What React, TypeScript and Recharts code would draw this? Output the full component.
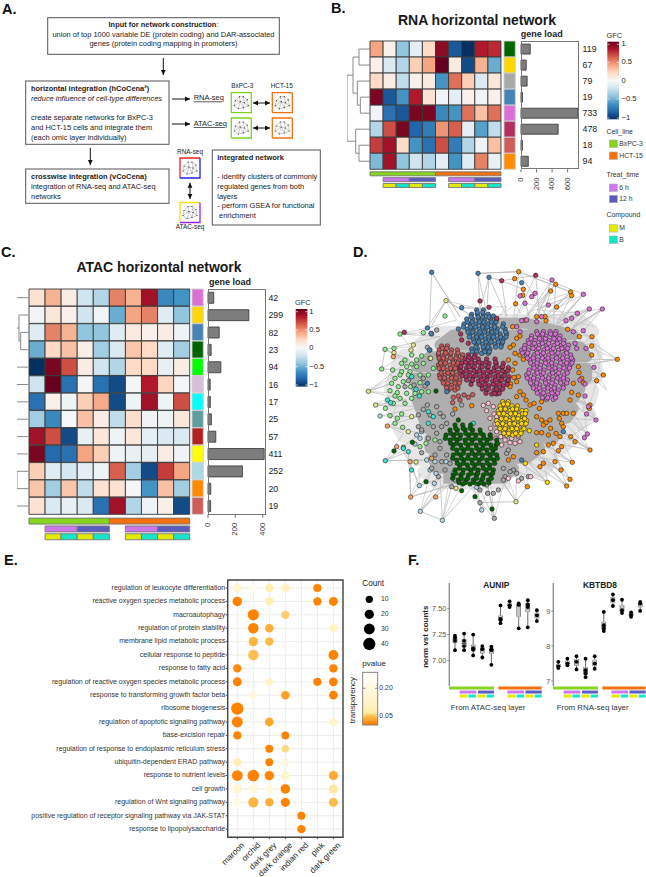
import React from "react";
import { BarChart, Bar, Cell, XAxis, YAxis, ScatterChart, Scatter, ZAxis, CartesianGrid, ReferenceArea } from "recharts";

const FONT = '"Liberation Sans", Arial, sans-serif';

// ---- heatmaps ----
const RNA_MODULES = ["darkgreen", "gold", "darkgrey", "steelblue", "orchid", "maroon", "indianred", "darkorange"];
const RNA_LOAD = [119, 67, 79, 19, 733, 478, 18, 94];
const RNA_GFC = [
  [0.4, 0.05, -0.4, -0.1, 0.2, 0.9, -0.85, -1, 0.8, 0.75],
  [0.05, -0.15, -0.3, 0.25, 0.4, 1, 0.1, -0.9, 0.35, -0.5],
  [0.2, 0.08, -0.25, 0.05, 0.1, -0.6, 0.55, 0.25, -0.15, 0.12],
  [0.95, -0.85, -0.6, 0.8, 0.15, -0.03, -0.1, 0.05, -0.03, 0.05],
  [-0.03, -0.75, -0.85, 0.95, 0.95, -0.65, -0.6, 0.55, 0.3, 0.55],
  [-0.3, 0.65, 0.95, -0.8, -0.7, 0.45, 0.6, -0.1, -0.55, -0.25],
  [0.7, 0.85, 0.2, -0.6, -0.75, 0.65, -0.7, -0.3, -0.05, 0.3],
  [-0.45, 0.85, -0.4, -0.2, -0.3, -0.1, -0.6, -0.12, 0.5, -0.08],
];
const ATAC_MODULES = ["orchid", "gold", "steelblue", "darkgreen", "lime", "thistle", "cyan", "cadetblue", "firebrick", "yellow", "lightblue", "darkorange", "indianred"];
const ATAC_LOAD = [42, 299, 82, 23, 94, 16, 17, 25, 57, 411, 252, 20, 19];
const ATAC_GFC = [
  [0.15, 0.35, 0.08, -0.2, -0.3, 0.5, 0.35, 0.85, -0.65, -0.6],
  [-0.03, 0.12, 0.05, -0.2, -0.03, -0.5, 0.4, 0.5, -0.12, -0.4],
  [-0.12, 0.5, 0.35, -0.4, -0.4, -0.12, 0.1, 0.05, 0.08, -0.05],
  [-0.5, 0.2, 0.3, 0.06, -0.35, -0.15, 0.28, 0.2, -0.12, -0.35],
  [-1, 0.95, 0.65, 0.08, -0.2, -0.3, 0.2, 0.2, -0.08, 0.08],
  [-0.2, 1, -0.75, -0.02, -0.75, -0.9, -0.02, 0.8, 0.22, -0.02],
  [-0.75, 0.05, -0.05, 0.25, 0.38, -0.9, -0.05, 0.85, -0.05, 0.65],
  [-0.35, -0.65, -0.01, 0.3, 0.08, -0.25, 0.18, -0.04, -0.05, 0.12],
  [0.85, 0.65, -0.9, -0.08, 0.12, -0.05, 0.12, -0.1, -0.15, -0.15],
  [0.95, -0.78, -0.75, 0.4, 0.25, -0.04, -0.08, -0.1, 0.08, -0.04],
  [0.25, -0.12, -0.18, -0.1, -0.05, 0.6, -0.35, -0.9, 0.7, 0.4],
  [0.28, -0.35, 0.28, -0.25, 0.15, 0.15, -0.02, -0.6, 0.3, -0.35],
  [0.15, -0.15, -0.08, -0.15, -0.75, 0.85, -0.3, -0.05, 0.06, -0.9],
];

// dendrograms: each link is a run of [height, row]
const RNA_TREE = [
  [[0, 0], [32, 0], [32, 1], [0, 1]],
  [[0, 3], [28, 3], [28, 4], [0, 4]],
  [[0, 2], [37, 2], [37, 3.5], [28, 3.5]],
  [[32, 0.5], [50, 0.5], [50, 2.75], [37, 2.75]],
  [[0, 6], [32, 6], [32, 7], [0, 7]],
  [[0, 5], [42, 5], [42, 6.5], [32, 6.5]],
  [[50, 1.63], [68, 1.63], [68, 5.75], [42, 5.75]],
];
const ATAC_TREE = [
  [[3, 0], [36, 0]],
  [[3, 2], [25, 2], [25, 3], [3, 3]],
  [[3, 1], [30, 1], [30, 2.5], [25, 2.5]],
  [[30, 1.75], [36, 1.75]],
  [[3, 4], [36, 4]],
  [[3, 5], [36, 5]],
  [[3, 6], [36, 6]],
  [[3, 7], [36, 7]],
  [[3, 8], [36, 8]],
  [[3, 9], [36, 9]],
  [[3, 10], [36, 10], [36, 11], [3, 11]],
  [[3, 12], [36, 12]],
];

// column annotation strips: [width in columns, group]
const HEAT_CELL_LINE = [[5, "BxPC-3"], [5, "HCT-15"]];
const HEAT_TREAT = [[1, ""], [2, "6 h"], [2, "12 h"], [1, ""], [2, "6 h"], [2, "12 h"]];
const HEAT_COMPOUND = [[1, ""], [1, "M"], [1, "B"], [1, "M"], [1, "B"], [1, ""], [1, "M"], [1, "B"], [1, "M"], [1, "B"]];
const BOX_CELL_LINE = [[4.85, "BxPC-3"], [0.48, ""], [4.67, "HCT-15"]];
const BOX_TREAT = [[1.15, ""], [1.8, "6 h"], [0.18, ""], [1.72, "12 h"], [1.45, ""], [1.8, "6 h"], [0.15, ""], [1.75, "12 h"]];
const BOX_COMPOUND = [[1.15, ""], [0.85, "M"], [0.1, ""], [0.8, "B"], [0.2, ""], [0.87, "M"], [0.1, ""], [0.78, "B"], [1.45, ""], [0.9, "M"], [0.1, ""], [0.8, "B"], [0.15, ""], [0.9, "M"], [0.1, ""], [0.75, "B"]];

// ---- dot plot ----
const GO_TERMS = [
  "regulation of leukocyte differentiation",
  "reactive oxygen species metabolic process",
  "macroautophagy",
  "regulation of protein stability",
  "membrane lipid metabolic process",
  "cellular response to peptide",
  "response to fatty acid",
  "regulation of reactive oxygen species metabolic process",
  "response to transforming growth factor beta",
  "ribosome biogenesis",
  "regulation of apoptotic signaling pathway",
  "base-excision repair",
  "regulation of response to endoplasmic reticulum stress",
  "ubiquitin-dependent ERAD pathway",
  "response to nutrient levels",
  "cell growth",
  "regulation of Wnt signaling pathway",
  "positive regulation of receptor signaling pathway via JAK-STAT",
  "response to lipopolysaccharide",
];
const GO_MODULES = ["maroon", "orchid", "dark grey", "dark orange", "indian red", "pink", "dark green"];
const COUNT_LEVELS = [10, 20, 30, 40];
// term, module, count, pvalue
const GO_DOTS = [
  [0, 0, 10, 0.15], [0, 1, 5, 0.25], [0, 2, 7, 0.08], [0, 3, 8, 0.1], [0, 5, 8, 0.008],
  [1, 0, 17, 0.005], [1, 2, 8, 0.09], [1, 5, 9, 0.008], [1, 6, 13, 0.006],
  [2, 1, 30, 0.003], [2, 3, 9, 0.055],
  [3, 1, 24, 0.004], [3, 2, 10, 0.035], [3, 6, 8, 0.12],
  [4, 1, 16, 0.04], [4, 2, 8, 0.045],
  [5, 1, 24, 0.05], [5, 6, 19, 0.005],
  [6, 0, 9, 0.012], [6, 6, 8, 0.005],
  [7, 0, 13, 0.008], [7, 2, 6, 0.13], [7, 5, 8, 0.008], [7, 6, 12, 0.005],
  [8, 1, 10, 0.2], [8, 3, 10, 0.025], [8, 6, 12, 0.008],
  [9, 0, 40, 0.002],
  [10, 0, 28, 0.003], [10, 2, 12, 0.03], [10, 6, 10, 0.15],
  [11, 0, 8, 0.006], [11, 3, 6, 0.004],
  [12, 2, 7, 0.005], [12, 3, 5, 0.06],
  [13, 0, 7, 0.09], [13, 2, 6, 0.006], [13, 3, 3, 0.2],
  [14, 0, 26, 0.003], [14, 1, 33, 0.002], [14, 2, 16, 0.006], [14, 3, 11, 0.15], [14, 6, 14, 0.03],
  [15, 0, 17, 0.15], [15, 1, 18, 0.2], [15, 2, 10, 0.2], [15, 3, 17, 0.005], [15, 6, 14, 0.065],
  [16, 0, 11, 0.22], [16, 1, 22, 0.04], [16, 2, 10, 0.035], [16, 3, 14, 0.005], [16, 6, 13, 0.045],
  [17, 4, 7, 0.004],
  [18, 4, 9, 0.007],
];

// ---- box plots ----
const AUNIP_COUNTS = [
  [7.24, 7.22, 7.19, 7.1], [7.26, 7.19, 7.14, 7.1], [7.25, 7.12, 7.105, 7.05], [7.14, 7.11, 7.03], [7.135, 7.11, 7.1, 6.96],
  [7.53, 7.4, 7.39, 7.36], [7.57, 7.53, 7.515], [7.55, 7.535, 7.31], [7.58, 7.54, 7.515, 7.32], [7.485, 7.435, 7.38],
];
const KBTBD8_COUNTS = [
  [7.55, 7.42, 7.37], [7.64, 7.5, 7.45], [7.71, 7.55, 7.33], [7.64, 7.31, 7.21, 7.11], [7.71, 7.5, 7.35],
  [8.98, 8.6, 8.5, 8.43], [9.48, 9.32, 9.15], [9.33, 9.03, 8.95], [8.97, 8.9, 8.84], [9.27, 9.22, 9.01],
];

// ---- network: layout coordinates; modules listed as [y, x, x, ...] ----
const NET_ORCHID_ROWS = [
  [215, 590, 610, 630, 648], [228, 575, 597, 618, 640, 660], [242, 565, 585, 605, 628, 650, 672],
  [256, 555, 577, 598, 620, 642, 664, 685], [270, 545, 565, 590, 612, 634, 656, 678], [285, 560, 582, 605, 626, 648, 670, 692],
  [300, 570, 593, 615, 637, 660, 682, 698], [315, 580, 602, 625, 647, 670, 690], [330, 568, 590, 612, 636, 658, 680],
  [345, 560, 583, 605, 628, 650, 672], [360, 570, 592, 615, 638, 660, 682], [375, 578, 600, 622, 645, 668],
  [390, 590, 612, 634, 655], [405, 605, 625, 645], [418, 620, 640],
  [222, 592, 608, 632, 646], [236, 573, 599, 616, 642, 658], [250, 567, 583, 607, 626, 652, 670], [265, 553, 579, 596, 622, 640, 666, 683],
  [279, 547, 563, 592, 610, 636, 654, 680], [294, 562, 580, 607, 624, 650, 668, 694], [309, 572, 591, 617, 635, 662, 680, 696], [324, 582, 600, 627, 645, 672, 688],
  [339, 566, 592, 610, 638, 656, 682], [354, 562, 581, 607, 626, 652, 670], [369, 572, 590, 617, 636, 662, 680], [384, 580, 598, 624, 643, 670], [399, 592, 610, 636, 653], [413, 607, 623, 647],
  [108, 540], [130, 555], [100, 585], [110, 575], [60, 636], [103, 730], [147, 787, 748], [160, 712], [175, 695], [182, 678, 545],
  [185, 590], [170, 605], [135, 625], [200, 530], [215, 540, 700], [180, 560], [250, 705], [212, 730], [265, 710, 738],
  [322, 762], [372, 735], [360, 720], [408, 735], [440, 745], [462, 740], [480, 768], [522, 742], [533, 733],
];
const NET_MAROON_ROWS = [
  [285, 385, 405], [297, 375, 395, 415, 440, 465], [310, 365, 385, 405, 425, 447, 468, 490],
  [323, 360, 380, 400, 420, 442, 463, 485, 505], [337, 368, 388, 410, 430, 452, 473, 495], [350, 378, 400, 422, 443, 465, 487, 507],
  [363, 395, 415, 437, 458, 480, 500], [377, 425, 447, 468, 490], [390, 440, 462, 480], [402, 455, 470],
  [292, 387, 403], [307, 377, 393, 417, 438, 467], [320, 363, 387, 403, 427, 445, 470, 488], [333, 362, 378, 402, 418, 444, 461, 487, 503],
  [347, 366, 390, 408, 432, 450, 475, 493], [360, 380, 398, 424, 441, 467, 485, 505], [373, 393, 417, 435, 460, 478, 502], [387, 427, 445, 470, 488], [400, 438, 464, 478],
  [62, 485], [46, 587], [123, 420], [142, 447], [217, 193], [175, 470], [240, 365], [222, 362], [250, 385],
];
const NET_RED_ROWS = [
  [258, 305, 322], [270, 298, 315, 335, 352], [285, 295, 312, 330, 350, 368], [300, 300, 318, 338, 356],
  [315, 295, 312, 330, 348], [330, 305, 322, 340, 358], [345, 298, 315, 333, 350], [360, 308, 325, 343, 360],
  [375, 318, 335, 352], [390, 325, 345], [412, 340, 385], [408, 355], [405, 372], [404, 398], [420, 360], [428, 338],
  [265, 307, 320], [279, 296, 317, 333, 354], [294, 297, 310, 332, 348, 366], [309, 302, 316, 340, 354], [325, 297, 310, 332, 346],
  [339, 303, 324, 338, 360], [354, 300, 313, 335, 348], [369, 310, 323, 345, 358], [384, 320, 333, 354],
];
const NET_BLUE_ROWS = [
  [150, 410, 430], [163, 395, 412, 430, 445], [177, 380, 398, 416, 434, 452, 470], [192, 372, 390, 408, 426, 444, 462, 490],
  [207, 382, 400, 418, 436, 454, 472, 495], [222, 390, 408, 426, 444, 462, 480, 500], [237, 400, 418, 436, 455, 473, 490],
  [252, 410, 428, 446, 465, 485], [267, 395, 412, 432, 450], [280, 425, 445],
  [157, 412, 428], [171, 393, 414, 428, 447], [186, 382, 396, 418, 432, 454, 468], [201, 370, 392, 406, 428, 442, 464, 488],
  [216, 384, 398, 420, 434, 456, 470, 497], [231, 388, 410, 424, 446, 460, 482, 498], [246, 402, 416, 438, 453, 475, 488], [261, 408, 430, 444, 467, 483], [275, 397, 410, 434, 448],
  [37, 275], [40, 414], [52, 447], [68, 545], [143, 365], [204, 262], [220, 273], [207, 355], [168, 460], [270, 268], [370, 262], [395, 320], [600, 545], [515, 670],
];
const NET_GOLD_ROWS = [
  [425, 488, 505], [438, 480, 498, 516, 532], [452, 475, 493, 510, 528, 546, 558], [467, 482, 500, 518, 536, 552],
  [482, 470, 490, 507, 525, 543, 560], [497, 478, 497, 514, 532, 550], [512, 490, 508, 525, 545, 568], [525, 500, 518, 535],
  [432, 490, 503], [447, 482, 496, 518, 530], [461, 477, 491, 512, 526, 548, 556], [476, 484, 498, 520, 534, 554],
  [491, 472, 488, 509, 523, 545, 558], [506, 480, 495, 516, 530, 552], [520, 492, 506, 527, 543],
  [667, 622], [555, 590], [578, 420], [610, 556],
];
const NET_PINK_ROWS = [
  [436, 430], [430, 445], [440, 460], [452, 440], [462, 462], [475, 450], [492, 465], [505, 452], [515, 470], [525, 452],
  [535, 468, 515], [530, 482, 535], [540, 495], [548, 510], [550, 525], [555, 485], [522, 500], [470, 470], [545, 540],
  [663, 535], [650, 572], [655, 505],
];
const NET_GREEN_ROWS = [
  [480, 355], [495, 345, 368, 392], [510, 330, 352, 375, 398, 420], [525, 318, 340, 362, 385, 408, 430, 450],
  [540, 330, 352, 375, 397, 420, 442, 470], [555, 340, 362, 385, 408, 430, 452, 468], [570, 350, 372, 395, 418, 440, 460],
  [585, 340, 362, 385, 405, 428, 450, 470], [600, 350, 372, 395, 418, 440, 462], [615, 360, 382, 405, 428, 450],
  [630, 345, 370, 392, 415, 438, 460], [645, 340, 362, 385, 408, 430, 452], [660, 355, 378, 400, 425, 445], [672, 368, 390, 415, 432],
  [505, 347, 370, 390], [520, 332, 350, 377, 396, 422], [535, 316, 342, 360, 387, 406, 432, 452], [550, 332, 350, 377, 395, 422, 440, 472],
  [565, 338, 364, 383, 410, 428, 454, 466], [580, 352, 370, 397, 416, 442, 458], [595, 338, 364, 383, 407, 426, 452, 472], [610, 352, 370, 397, 416, 442, 464],
  [625, 358, 384, 403, 430, 448], [640, 347, 368, 394, 413, 440, 458], [655, 338, 364, 383, 410, 428, 454], [668, 357, 376, 402, 423, 447],
  [692, 365], [710, 405], [747, 456], [665, 258], [393, 288], [547, 217], [573, 162],
];
const NET_ORANGE_ROWS = [
  [35, 536], [56, 524], [88, 550], [106, 548], [131, 527], [93, 632], [73, 647], [96, 692], [107, 695], [141, 650], [170, 615, 590], [182, 618],
  [200, 518], [180, 555], [208, 683], [230, 718, 756], [258, 755], [285, 755], [298, 832], [345, 790], [362, 770], [320, 715], [338, 717],
  [355, 725], [368, 730], [370, 700], [405, 715], [397, 695], [420, 690], [435, 750], [445, 748], [460, 700, 670, 655, 680], [475, 658], [490, 665], [500, 670],
  [235, 530], [255, 520], [262, 510], [280, 525], [285, 540], [298, 550], [310, 525], [300, 505], [330, 518], [350, 535], [352, 522],
  [372, 512], [365, 530], [380, 510], [395, 540], [410, 530], [405, 550], [420, 558], [435, 570], [430, 582], [445, 598], [425, 605],
  [470, 590], [480, 605, 630], [488, 618], [495, 610], [505, 632], [518, 590, 605], [525, 625], [520, 648], [530, 660, 692], [550, 640], [555, 625],
  [560, 665], [572, 655], [545, 705], [570, 750], [575, 610], [578, 590], [610, 610], [620, 600], [605, 645], [630, 663], [607, 697], [658, 690], [678, 680],
  [680, 562], [590, 520], [600, 505], [215, 455], [437, 395], [447, 345], [228, 540],
];
const NET_LIGHTGREEN_ROWS = [
  [168, 315], [218, 250], [222, 180], [268, 135], [265, 162], [285, 215], [288, 245], [295, 270], [327, 125], [330, 158], [310, 185, 250], [320, 200, 230],
  [312, 215], [335, 185, 210], [355, 165], [370, 155], [365, 190], [398, 172], [408, 165], [415, 180, 215], [392, 150], [400, 200, 225], [395, 245, 265],
  [368, 240], [345, 265], [325, 280], [445, 136], [467, 150], [462, 185], [475, 172], [490, 165], [560, 240], [550, 258], [540, 285], [502, 188],
  [300, 195, 230], [345, 180, 205, 240], [380, 175, 212], [430, 160, 195],
];
const NET_KHAKI_ROWS = [[122, 318], [394, 85], [435, 107], [255, 220], [270, 213], [295, 272], [278, 162], [515, 205], [606, 228], [685, 348], [725, 528], [470, 215]];
const NET_TURQUOISE_ROWS = [[602, 136], [420, 143], [428, 152], [630, 215], [575, 205], [408, 238], [350, 215], [490, 265, 400], [455, 265], [470, 280], [388, 228], [565, 190]];
const NET_LIGHTBLUE_ROWS = [
  [754, 241], [781, 307], [750, 425], [677, 238], [670, 283], [468, 120], [630, 270], [640, 288], [525, 230], [515, 245], [552, 225], [535, 240],
  [600, 260], [605, 285, 318], [640, 340], [505, 370], [682, 410], [668, 365],
];
const NET_GREY_ROWS = [
  [262, 262], [270, 270], [210, 290], [222, 275], [362, 205], [375, 222], [380, 195], [355, 250], [378, 255], [435, 262], [440, 290], [460, 300],
  [448, 250], [465, 235, 270], [470, 310], [500, 235, 280, 305], [510, 245], [490, 320], [520, 290], [535, 265], [545, 300], [565, 300], [585, 285, 320],
  [578, 245], [605, 305], [630, 315], [610, 330], [625, 275], [650, 295], [680, 335], [660, 345], [728, 420], [700, 443, 460], [690, 420], [775, 463],
  [625, 490], [630, 520], [650, 495], [660, 490], [635, 510], [650, 565], [640, 530], [655, 545], [675, 440], [690, 475], [435, 365], [462, 338], [580, 500], [570, 505],
];
const NET_SANDY_ROWS = [[711, 212, 287], [605, 210], [498, 142], [560, 170], [562, 190], [595, 275], [640, 412], [290, 160]];

// wide strokes that lay down the mass of overlapping edges
const NET_LIGHT_MASS = [
  [420, 180], [720, 180], [760, 215], [300, 215], [240, 250], [760, 250], [770, 285], [190, 285], [170, 320], [770, 320], [770, 355], [160, 355],
  [150, 390], [760, 390], [750, 425], [150, 425], [160, 460], [750, 460], [720, 495], [170, 495], [190, 530], [700, 530], [670, 565], [200, 565],
  [230, 600], [640, 600], [610, 635], [250, 635], [290, 670], [510, 670],
];
const NET_DARK_MASS = [
  [400, 190], [560, 190], [700, 225], [340, 225], [300, 255], [720, 260], [740, 290], [270, 290], [230, 320], [740, 325], [740, 355], [220, 355],
  [230, 385], [720, 385], [700, 415], [230, 415], [240, 445], [700, 445], [680, 475], [250, 475], [260, 505], [650, 505], [640, 535], [270, 535],
  [270, 565], [600, 565], [560, 595], [280, 595], [290, 625], [520, 625], [490, 655], [310, 655],
];
// thin edges out to the peripheral nodes
const NET_EDGE_TRACE = [
  [275, 37], [360, 170], [275, 37], [268, 210], [318, 122], [400, 170], [318, 122], [250, 218], [180, 222], [300, 230], [135, 268], [240, 330], [125, 327], [135, 268],
  [210, 300], [85, 394], [155, 370], [85, 394], [200, 420], [107, 435], [250, 440], [120, 468], [230, 470], [142, 498], [240, 520], [136, 602], [250, 600], [136, 602], [205, 575],
  [212, 711], [380, 660], [212, 711], [210, 605], [238, 677], [340, 640], [241, 754], [307, 781], [340, 660], [241, 754], [300, 650], [307, 781], [400, 680], [425, 750], [405, 660],
  [463, 775], [440, 660], [463, 775], [420, 728], [528, 725], [470, 640], [528, 725], [562, 680], [490, 620], [622, 667], [560, 600], [680, 678], [600, 590], [690, 658], [640, 580],
  [697, 607], [600, 540], [750, 570], [650, 500], [750, 570], [690, 530], [768, 480], [680, 420], [768, 480], [700, 370], [790, 345], [680, 300], [832, 298], [700, 320], [832, 298],
  [760, 250], [690, 260], [787, 147], [660, 230], [787, 147], [700, 200], [748, 147], [620, 220], [730, 103], [640, 210], [730, 103], [587, 46], [600, 190], [692, 96], [580, 200],
  [636, 60], [560, 170], [647, 73], [640, 200], [536, 35], [692, 96], [536, 35], [520, 190], [587, 46], [485, 62], [500, 170], [447, 52], [440, 160], [414, 40], [536, 35], [414, 40],
  [420, 150], [447, 52], [485, 62], [550, 88], [570, 190], [632, 93], [600, 200], [695, 107], [650, 190], [712, 160], [610, 230], [748, 147], [680, 220], [756, 230], [680, 290],
  [755, 285], [690, 360], [770, 362], [680, 400], [750, 435], [650, 400], [745, 440], [640, 370], [742, 522], [620, 430], [750, 570], [610, 480], [680, 678], [560, 560], [660, 630],
  [530, 570], [622, 667], [500, 580], [697, 607], [540, 500], [710, 545], [600, 470], [768, 480],
];
const NET_EDGE_FAN = [
  [770, 200], [620, 170], [748, 147], [660, 180], [712, 160], [590, 150], [695, 107], [560, 160], [647, 73], [600, 130], [692, 96], [640, 150], [730, 103], [680, 160], [787, 147], [720, 200],
  [790, 300], [832, 298], [740, 260], [790, 345], [730, 330], [800, 390], [762, 322], [720, 400], [768, 480], [730, 440], [742, 522], [700, 480], [750, 570], [660, 520], [697, 607], [620, 560],
  [690, 658], [610, 590], [622, 667], [560, 620], [562, 680], [530, 620], [528, 725], [500, 640], [463, 775], [450, 650], [425, 750], [380, 650], [307, 781], [330, 650], [241, 754], [270, 640],
  [212, 711], [240, 640], [238, 677], [190, 570], [136, 602], [190, 520], [142, 498], [170, 440], [107, 435], [170, 400], [85, 394], [160, 350], [125, 327], [180, 290], [135, 268], [210, 260],
  [180, 222], [280, 200], [262, 204], [350, 180], [318, 122], [430, 150], [365, 143], [500, 140], [470, 175], [527, 131], [540, 160], [555, 130], [600, 140], [625, 135], [650, 141], [712, 210],
  [756, 230], [780, 300], [770, 362], [760, 400], [745, 440], [770, 470],
];

const MODULE_COLORS: Record<string, string> = {
  maroon: "#b03060",
  lime: "#00ff00",
  sandy: "#f4a460",
  khaki: "#e6e68c",
  lightgreen: "#90ee90",
  lightblue: "#add8e6",
  turquoise: "#40e0d0",
};
const ANNOT_COLORS: Record<string, string> = {
  "BxPC-3": "#86d41f",
  "HCT-15": "#f2700f",
  "6 h": "#cc77ee",
  "12 h": "#5a5cc0",
  M: "#e4ea00",
  B: "#14e6c8",
};
const GFC_STOPS: [number, string][] = [
  [-1, "#053061"], [-0.8, "#2166ac"], [-0.6, "#4393c3"], [-0.4, "#92c5de"], [-0.2, "#d1e5f0"], [0, "#f7f7f7"],
  [0.2, "#fddbc7"], [0.4, "#f4a582"], [0.6, "#d6604d"], [0.8, "#b2182b"], [1, "#67001f"],
];
const P_STOPS: [number, string][] = [
  [0, "#ff8000"], [0.01, "#ff8506"], [0.03, "#fda92e"], [0.05, "#fdc050"], [0.065, "#fee9a0"], [0.1, "#fff2bf"], [0.2, "#fff8df"], [0.29, "#ffffff"],
];

function ramp(stops: [number, string][], v: number) {
  const hex = (s: string, i: number) => parseInt(s.slice(1 + i * 2, 3 + i * 2), 16);
  let k = 0;
  while (k < stops.length - 2 && v > stops[k + 1][0]) k++;
  const [a, ca] = stops[k];
  const [b, cb] = stops[k + 1];
  const t = Math.max(0, Math.min(1, (v - a) / (b - a)));
  const c = [0, 1, 2].map((i) => Math.round(hex(ca, i) + (hex(cb, i) - hex(ca, i)) * t));
  return `rgb(${c[0]},${c[1]},${c[2]})`;
}

const moduleFill = (name: string) => MODULE_COLORS[name] || name;
const rowsToPoints = (rows: number[][]) => rows.flatMap(([y, ...xs]) => xs.map((x) => ({ x, y })));
const noDot = () => null;

function At({ x, y, children }: any) {
  return <div style={{ position: "absolute", left: x, top: y }}>{children}</div>;
}

function CellGrid({ fills, width, height, line = "#3a3a3a" }: any) {
  const cols = fills[0].map((_: any, j: number) => j);
  const data = fills.map((r: string[], i: number) => {
    const o: any = { row: i };
    r.forEach((_, j) => (o[`c${j}`] = 1));
    return o;
  });
  return (
    <BarChart width={width + 2} height={height + 2} data={data} layout="vertical" barCategoryGap={0} margin={{ top: 1, right: 1, bottom: 1, left: 1 }}>
      <XAxis type="number" hide domain={[0, cols.length]} />
      <YAxis type="category" dataKey="row" hide />
      {cols.map((j: number) => (
        <Bar key={j} dataKey={`c${j}`} stackId="h" isAnimationActive={false} stroke={line} strokeWidth={0.9}>
          {fills.map((r: string[], i: number) => <Cell key={i} fill={r[j]} />)}
        </Bar>
      ))}
    </BarChart>
  );
}

function Strips({ rows, width, height, line }: any) {
  const n = Math.max(...rows.map((r: any[]) => r.length));
  const keys = Array.from({ length: n }, (_, i) => i);
  const data = rows.map((r: any[], i: number) => {
    const o: any = { row: i };
    r.forEach(([w], j) => (o[`s${j}`] = w));
    return o;
  });
  return (
    <BarChart width={width + 2} height={height} data={data} layout="vertical" barCategoryGap="14%" margin={{ top: 0, right: 1, bottom: 0, left: 1 }}>
      <XAxis type="number" hide domain={[0, 10]} />
      <YAxis type="category" dataKey="row" hide />
      {keys.map((j) => (
        <Bar key={j} dataKey={`s${j}`} stackId="s" isAnimationActive={false}>
          {rows.map((r: any[], i: number) => {
            const g = r[j] ? r[j][1] : "";
            return <Cell key={i} fill={g ? ANNOT_COLORS[g] : "none"} stroke={g && line ? line : "none"} strokeWidth={0.9} />;
          })}
        </Bar>
      ))}
    </BarChart>
  );
}

function RotTick({ x, y, payload }: any) {
  return (
    <text x={x} y={y + 3} transform={`rotate(-90,${x},${y + 3})`} textAnchor="end" dominantBaseline="middle" fontSize={7.8} fontFamily={FONT} fill="#333">
      {payload.value}
    </text>
  );
}

function GeneLoad({ values, width, height, max, ticks }: any) {
  const data = values.map((v: number) => ({ label: String(v), load: v }));
  return (
    <div style={{ position: "relative", width: width + 29, height: height + 24 }}>
      <BarChart width={width + 29} height={height + 24} data={data} layout="vertical" barCategoryGap="19%" margin={{ top: 0, right: 0, bottom: 0, left: 5 }}>
        <XAxis type="number" domain={[0, max]} ticks={ticks} height={24} tick={RotTick} tickSize={3} tickLine={{ stroke: "#666" }} axisLine={false} interval={0} />
        <YAxis type="category" dataKey="label" orientation="right" width={24} axisLine={false} tickLine={false} tickSize={0} tickMargin={3} interval={0} tick={{ fontSize: 8.8, fill: "#222", fontFamily: FONT }} />
        <Bar dataKey="load" fill="#7d7d7d" stroke="#333" strokeWidth={0.8} isAnimationActive={false} />
      </BarChart>
      <div style={{ position: "absolute", left: 5, top: 0, width, height, border: "1px solid #777", boxSizing: "border-box" }} />
    </div>
  );
}

function Dendrogram({ links, rows, maxH, width, height }: any) {
  return (
    <ScatterChart width={width} height={height} margin={{ top: 0, right: 0, bottom: 0, left: 0 }}>
      <XAxis type="number" dataKey="h" domain={[0, maxH]} reversed hide />
      <YAxis type="number" dataKey="r" domain={[-0.5, rows - 0.5]} reversed hide />
      {links.map((l: number[][], i: number) => (
        <Scatter key={i} data={l.map(([h, r]) => ({ h, r }))} line={{ stroke: "#8a8a8a", strokeWidth: 1 }} lineType="joint" shape={noDot} isAnimationActive={false} />
      ))}
    </ScatterChart>
  );
}

function HeatPanel({ x, y, w, h, gfc, modules, annotX, annotW, barX, barW, load, max, ticks, tree, treeX, treeW, maxH, stripY, stripH }: any) {
  return (
    <>
      <At x={treeX} y={y}><Dendrogram links={tree} rows={gfc.length} maxH={maxH} width={treeW} height={h} /></At>
      <At x={x - 1} y={y - 1}><CellGrid fills={gfc.map((r: number[]) => r.map((v) => ramp(GFC_STOPS, v)))} width={w} height={h} /></At>
      <At x={annotX - 1} y={y - 1}><CellGrid fills={modules.map((m: string) => [moduleFill(m)])} width={annotW} height={h} line="#d0d0d0" /></At>
      <At x={barX - 5} y={y}><GeneLoad values={load} width={barW} height={h} max={max} ticks={ticks} /></At>
      <At x={x - 1} y={stripY}><Strips rows={[HEAT_CELL_LINE, HEAT_TREAT, HEAT_COMPOUND]} width={w} height={stripH} line="#777" /></At>
    </>
  );
}

function DotTickX({ x, y, payload }: any) {
  return (
    <text x={x + 3} y={y} transform={`rotate(-45,${x + 3},${y})`} textAnchor="end" dominantBaseline="hanging" fontSize={8.3} fontFamily={FONT} fill="#222">
      {GO_MODULES[payload.value]}
    </text>
  );
}

function DotTickY({ x, y, payload }: any) {
  return (
    <text x={x} y={y} textAnchor="end" dominantBaseline="middle" fontSize={7} fontFamily={FONT} fill="#333">
      {GO_TERMS[payload.value]}
    </text>
  );
}

function DotPlot() {
  const data = GO_DOTS.map(([t, m, c, p]) => ({ term: t, mod: m, count: c, p }));
  return (
    <ScatterChart width={345} height={299.4} margin={{ top: 2, right: 2, bottom: 0, left: 0 }}>
      <CartesianGrid stroke="#ececec" strokeWidth={1} />
      <XAxis type="number" dataKey="mod" domain={[-0.6, 6.6]} ticks={GO_MODULES.map((_, i) => i)} interval={0} height={40.2} tick={DotTickX} tickSize={2} tickLine={{ stroke: "#444" }} axisLine={false} />
      <YAxis type="number" dataKey="term" domain={[-0.6, 18.6]} ticks={GO_TERMS.map((_, i) => i)} interval={0} reversed width={227.7} tickSize={2} tickMargin={0.5} tickLine={{ stroke: "#444" }} axisLine={false} tick={DotTickY} />
      <ZAxis type="number" dataKey="count" domain={[10, 40]} range={[42, 119]} />
      <Scatter data={data} isAnimationActive={false}>
        {data.map((d, i) => <Cell key={i} fill={ramp(P_STOPS, d.p)} />)}
      </Scatter>
      <ReferenceArea x1={-0.6} x2={6.6} y1={-0.6} y2={18.6} fill="none" stroke="#444" strokeWidth={1.4} />
    </ScatterChart>
  );
}

const quantile = (vals: number[], q: number) => {
  const s = [...vals].sort((a, b) => a - b);
  const k = (s.length - 1) * q;
  const lo = Math.floor(k);
  const hi = Math.min(s.length - 1, lo + 1);
  return s[lo] + (s[hi] - s[lo]) * (k - lo);
};

const BlackDot = ({ cx, cy }: any) => <circle cx={cx} cy={cy} r={1.9} fill="#000" />;

function BoxPanel({ groups, domain, ticks, fmt, xMin, width }: any) {
  const seg = (g: number, a: number, b: number) => [{ x: g, y: a }, { x: g, y: b }];
  return (
    <ScatterChart width={width} height={103} margin={{ top: 0, right: 0, bottom: 0, left: 0 }}>
      <XAxis type="number" dataKey="x" domain={[xMin, 9.56]} hide />
      <YAxis type="number" dataKey="y" domain={domain} ticks={ticks} interval={0} width={19.3} tickSize={2} tickMargin={1} tickFormatter={fmt} tick={{ fontSize: 7.3, fill: "#555", fontFamily: FONT }} tickLine={{ stroke: "#888" }} axisLine={{ stroke: "#888", strokeWidth: 1.3 }} />
      {groups.flatMap((vals: number[], g: number) => {
        const q1 = quantile(vals, 0.25);
        const q3 = quantile(vals, 0.75);
        const med = quantile(vals, 0.5);
        return [
          <Scatter key={`w${g}`} data={seg(g, Math.min(...vals), Math.max(...vals))} line={{ stroke: "#444", strokeWidth: 0.8 }} lineType="joint" shape={noDot} isAnimationActive={false} />,
          <Scatter key={`b${g}`} data={seg(g, q1, q3)} line={{ stroke: "#666", strokeWidth: 4.6 }} lineType="joint" shape={noDot} isAnimationActive={false} />,
          <Scatter key={`c${g}`} data={seg(g, q1, q3)} line={{ stroke: "#c4c4c4", strokeWidth: 3.4 }} lineType="joint" shape={noDot} isAnimationActive={false} />,
          <Scatter key={`m${g}`} data={[{ x: g - 0.24, y: med }, { x: g + 0.24, y: med }]} line={{ stroke: "#333", strokeWidth: 0.8 }} lineType="joint" shape={noDot} isAnimationActive={false} />,
          <Scatter key={`p${g}`} data={vals.map((v) => ({ x: g, y: v }))} shape={BlackDot} isAnimationActive={false} />,
        ];
      })}
    </ScatterChart>
  );
}

const NET_LAYERS: [string, number[][]][] = [
  ["darkorange", NET_ORANGE_ROWS],
  ["lightgreen", NET_LIGHTGREEN_ROWS],
  ["khaki", NET_KHAKI_ROWS],
  ["lightblue", NET_LIGHTBLUE_ROWS],
  ["darkgrey", NET_GREY_ROWS],
  ["sandy", NET_SANDY_ROWS],
  ["turquoise", NET_TURQUOISE_ROWS],
  ["pink", NET_PINK_ROWS],
  ["gold", NET_GOLD_ROWS],
  ["darkgreen", NET_GREEN_ROWS],
  ["indianred", NET_RED_ROWS],
  ["steelblue", NET_BLUE_ROWS],
  ["maroon", NET_MAROON_ROWS],
  ["orchid", NET_ORCHID_ROWS],
];

function Network() {
  const trace = (pts: number[][]) => pts.map(([x, y]) => ({ x, y }));
  return (
    <ScatterChart width={306} height={270} margin={{ top: 0, right: 0, bottom: 0, left: 0 }}>
      <XAxis type="number" dataKey="x" domain={[0, 918]} hide />
      <YAxis type="number" dataKey="y" domain={[0, 810]} reversed hide />
      <Scatter data={trace(NET_LIGHT_MASS)} line={{ stroke: "#e6e6e6", strokeWidth: 12, strokeLinejoin: "round" }} lineType="joint" shape={noDot} isAnimationActive={false} />
      <Scatter data={trace(NET_EDGE_TRACE)} line={{ stroke: "#bcbcbc", strokeWidth: 0.8 }} lineType="joint" shape={noDot} isAnimationActive={false} />
      <Scatter data={trace(NET_EDGE_FAN)} line={{ stroke: "#c4c4c4", strokeWidth: 0.7 }} lineType="joint" shape={noDot} isAnimationActive={false} />
      <Scatter data={trace(NET_DARK_MASS)} line={{ stroke: "#aeaeae", strokeWidth: 11, strokeLinejoin: "round" }} lineType="joint" shape={noDot} isAnimationActive={false} />
      {NET_LAYERS.map(([name, rows]) => (
        <Scatter
          key={name}
          data={rowsToPoints(rows)}
          shape={({ cx, cy }: any) => <circle cx={cx} cy={cy} r={2.25} fill={moduleFill(name)} stroke="#222" strokeWidth={0.6} />}
          isAnimationActive={false}
        />
      ))}
    </ScatterChart>
  );
}

// ---- drawn overlay: flow diagram, legends and labels ----
function T({ x, y, s = 7.45, w, a, c = "#222", u, it, rot, children }: any) {
  return (
    <text x={x} y={y} fontSize={s} fontWeight={w} fontStyle={it ? "italic" : undefined} textAnchor={a} fill={c} dominantBaseline="middle"
      textDecoration={u ? "underline" : undefined} transform={rot ? `rotate(${rot},${x},${y})` : undefined}>
      {children}
    </text>
  );
}

function Arrow({ x1, y1, x2, y2, both }: any) {
  const ang = (Math.atan2(y2 - y1, x2 - x1) * 180) / Math.PI;
  const head = (x: number, y: number, a: number) => <polygon points="0,0 -5,-2.4 -5,2.4" fill="#111" transform={`translate(${x},${y}) rotate(${a})`} />;
  return (
    <g>
      <line x1={x1} y1={y1} x2={x2} y2={y2} stroke="#111" strokeWidth={1} />
      {head(x2, y2, ang)}
      {both && head(x1, y1, ang + 180)}
    </g>
  );
}

function NetIcon({ x, y, a, b = a }: any) {
  const nodes = [[4, 8], [8, 4], [12, 4], [16, 7], [17, 13], [12, 15], [7, 16], [3, 13], [9, 9], [13, 10]];
  const links = [[0, 1], [1, 2], [2, 3], [3, 4], [4, 5], [5, 6], [6, 7], [7, 0], [0, 8], [1, 8], [2, 9], [3, 9], [8, 9], [4, 9], [5, 9], [6, 8], [7, 8], [5, 8]];
  return (
    <g transform={`translate(${x},${y})`}>
      <rect width={20} height={20} fill="#fff" stroke="none" />
      {links.map(([i, j], k) => <line key={k} x1={nodes[i][0]} y1={nodes[i][1]} x2={nodes[j][0]} y2={nodes[j][1]} stroke="#999" strokeWidth={0.5} />)}
      {nodes.map(([nx, ny], k) => <circle key={k} cx={nx} cy={ny} r={0.6} fill="#333" />)}
      <path d="M0 20V0H20" fill="none" stroke={a} strokeWidth={1.3} />
      <path d="M0 20H20V0" fill="none" stroke={b} strokeWidth={1.3} />
    </g>
  );
}

function ColorBar({ x, y, labelX, ticks }: any) {
  return (
    <g>
      <rect x={x} y={y} width={11.7} height={77.6} fill="url(#gfcRamp)" />
      {ticks.map(([v, ty]: any) => (
        <g key={v}>
          <line x1={x} x2={x + 2.2} y1={ty} y2={ty} stroke="#fff" strokeWidth={0.7} />
          <line x1={x + 9.5} x2={x + 11.7} y1={ty} y2={ty} stroke="#fff" strokeWidth={0.7} />
          <T x={labelX} y={ty} s={7.6}>{v}</T>
        </g>
      ))}
    </g>
  );
}

function Key({ x, y, group }: any) {
  return (
    <g>
      <rect x={x} y={y} width={8} height={7.4} fill={ANNOT_COLORS[group]} stroke="#aaa" strokeWidth={0.6} />
      <T x={x + 10} y={y + 4} s={6.8} c="#333">{group}</T>
    </g>
  );
}

function Overlay() {
  const box = { fill: "none", stroke: "#555", strokeWidth: 1 };
  return (
    <svg width={646} height={877} style={{ position: "absolute", left: 0, top: 0, pointerEvents: "none", fontFamily: FONT }}>
      <defs>
        <linearGradient id="gfcRamp" x1="0" y1="1" x2="0" y2="0">
          {GFC_STOPS.map(([v, c]) => <stop key={v} offset={(v + 1) / 2} stopColor={c} />)}
        </linearGradient>
        <linearGradient id="pRamp" x1="0" y1="1" x2="0" y2="0">
          {P_STOPS.map(([v, c]) => <stop key={v} offset={v / 0.29} stopColor={c} />)}
        </linearGradient>
      </defs>

      <T x={2} y={10} s={14.5} w="bold" c="#111">A.</T>
      <T x={331} y={9} s={14.5} w="bold" c="#111">B.</T>
      <T x={1} y={253} s={14.5} w="bold" c="#111">C.</T>
      <T x={353} y={253} s={14.5} w="bold" c="#111">D.</T>
      <T x={4} y={561} s={14.5} w="bold" c="#111">E.</T>
      <T x={408} y={561} s={14.5} w="bold" c="#111">F.</T>

      {/* A: flow diagram */}
      <rect x={47.7} y={17.7} width={231.6} height={36.6} {...box} />
      <T x={163.5} y={25} a="middle"><tspan fontWeight="bold">Input for network construction</tspan>:</T>
      <T x={163.5} y={34.7} a="middle">union of top 1000 variable DE (protein coding) and DAR-associated</T>
      <T x={163.5} y={44.4} a="middle">genes (protein coding mapping in promoters)</T>
      <Arrow x1={163.3} y1={58} x2={163.3} y2={75} />
      <rect x={25.7} y={81} width={143.3} height={63.3} {...box} />
      <T x={31} y={88.7} w="bold">horizontal integration (hCoCena²)</T>
      <T x={31} y={98.7} it>reduce influence of cell-type differences</T>
      <T x={31} y={118.3}>create separate networks for BxPC-3</T>
      <T x={31} y={128}>and HCT-15 cells and integrate them</T>
      <T x={31} y={137.7}>(each omic layer individually)</T>
      <Arrow x1={172} y1={99} x2={190} y2={99} />
      <Arrow x1={172} y1={124} x2={190} y2={124} />
      <T x={193.7} y={98.5} u>RNA-seq</T>
      <T x={193.7} y={124} u>ATAC-seq</T>
      <T x={242.3} y={86.3} a="middle" s={6.4}>BxPC-3</T>
      <T x={281.7} y={86.3} a="middle" s={6.4}>HCT-15</T>
      <NetIcon x={231.3} y={92.7} a="#7ed321" />
      <NetIcon x={272.3} y={92.7} a="#f2700f" />
      <NetIcon x={231.3} y={118} a="#7ed321" />
      <NetIcon x={272.3} y={118} a="#f2700f" />
      <Arrow x1={253} y1={103} x2={270} y2={103} both />
      <Arrow x1={253} y1={128} x2={270} y2={128} both />
      <Arrow x1={90.3} y1={147.7} x2={90.3} y2={165} />
      <rect x={25.7} y={169} width={143.3} height={34.3} {...box} />
      <T x={31} y={177.3} w="bold">crosswise integration (vCoCena)</T>
      <T x={31} y={187}>integration of RNA-seq and ATAC-seq</T>
      <T x={31} y={196.7}>networks</T>
      <T x={190} y={152.7} a="middle" s={6.4}>RNA-seq</T>
      <NetIcon x={180} y={158} a="#f02020" b="#2020e0" />
      <Arrow x1={190} y1={182.7} x2={190} y2={199} both />
      <NetIcon x={180} y={202.5} a="#f0e020" b="#a020f0" />
      <T x={190} y={227.7} a="middle" s={6.4}>ATAC-seq</T>
      <rect x={212.3} y={150} width={108} height={75} {...box} />
      <T x={217.3} y={157.7} w="bold">integrated network</T>
      <T x={217.3} y={177.3}>- identify clusters of commonly</T>
      <T x={217.3} y={187}>regulated genes from both</T>
      <T x={217.3} y={196.7}>layers</T>
      <T x={217.3} y={206.3}>- perform GSEA for functional</T>
      <T x={219} y={216}>enrichment</T>

      {/* B: titles and legends */}
      <T x={477} y={21} a="middle" s={14} w="bold" c="#1a1a1a">RNA horizontal network</T>
      <T x={520.7} y={35} s={9} w="bold">gene load</T>
      <T x={606.5} y={35.7} s={7.4} c="#333">GFC</T>
      <ColorBar x={607.3} y={41.7} labelX={621.5} ticks={[["1", 44.3], ["0.5", 62.3], ["0", 81], ["−0.5", 99], ["−1", 118]]} />
      <T x={606.5} y={131.7} s={6.9} c="#333">Cell_line</T>
      <Key x={609.3} y={140} group="BxPC-3" />
      <Key x={609.3} y={152} group="HCT-15" />
      <T x={606.5} y={174.7} s={6.9} c="#333">Treat_time</T>
      <Key x={609.3} y={184} group="6 h" />
      <Key x={609.3} y={195.3} group="12 h" />
      <T x={606.5} y={215.3} s={6.9} c="#333">Compound</T>
      <Key x={609.3} y={224.7} group="M" />
      <Key x={609.3} y={236} group="B" />

      {/* C: titles and legend */}
      <T x={159} y={268.3} a="middle" s={14} w="bold" c="#1a1a1a">ATAC horizontal network</T>
      <T x={209} y={282.3} s={9} w="bold">gene load</T>
      <T x={295} y={303.3} s={7.4} c="#333">GFC</T>
      <ColorBar x={295.7} y={309} labelX={309.3} ticks={[["1", 311.7], ["0.5", 330], ["0", 348], ["−0.5", 366.7], ["−1", 385]]} />

      {/* E: legends */}
      <T x={362.3} y={583.7} s={8.2} c="#222">Count</T>
      {COUNT_LEVELS.map((c, i) => {
        const r = Math.sqrt((42 + ((c - 10) / 30) * 77) / Math.PI);
        const cy = [599.3, 614.3, 629, 644][i];
        return (
          <g key={c}>
            <circle cx={369.3} cy={cy} r={r} fill="#000" />
            <T x={381} y={cy} s={6.8} c="#333">{c}</T>
          </g>
        );
      })}
      <T x={362.3} y={664} s={8} c="#222">pvalue</T>
      <rect x={362.7} y={672.3} width={15} height={52.7} fill="url(#pRamp)" stroke="#777" strokeWidth={0.9} />
      <line x1={363} x2={365.5} y1={688.3} y2={688.3} stroke="#444" strokeWidth={0.6} />
      <line x1={375} x2={377.5} y1={688.3} y2={688.3} stroke="#444" strokeWidth={0.6} />
      <line x1={363} x2={365.5} y1={716} y2={716} stroke="#fff" strokeWidth={0.6} />
      <line x1={375} x2={377.5} y1={716} y2={716} stroke="#fff" strokeWidth={0.6} />
      <T x={379.3} y={688.3} s={6.9} c="#333">0.20</T>
      <T x={379.3} y={716} s={6.9} c="#333">0.05</T>
      <T x={353.3} y={700} s={8} a="middle" rot={-90} c="#222">transparency</T>

      {/* F: labels */}
      <T x={496.3} y={586} s={8.4} w="bold" a="middle">AUNIP</T>
      <T x={600} y={586} s={8.4} w="bold" a="middle">KBTBD8</T>
      <T x={425.7} y={636.7} s={8} w="bold" a="middle" rot={-90}>norm vst counts</T>
      <T x={450.7} y={708} s={7.9} c="#333">From ATAC-seq layer</T>
      <T x={556.7} y={708} s={7.9} c="#333">From RNA-seq layer</T>
    </svg>
  );
}

export default function App() {
  const fmt2 = (v: number) => v.toFixed(2);
  const fmt0 = (v: number) => String(v);
  return (
    <div style={{ position: "absolute", left: 0, top: 0, width: 646, height: 877, background: "#fff", overflow: "hidden", fontFamily: FONT }}>
      <At x={340} y={260}><Network /></At>
      <HeatPanel x={370} y={40.7} w={131} h={128.3} gfc={RNA_GFC} modules={RNA_MODULES} annotX={504} annotW={11.3} barX={520.7} barW={58.6} load={RNA_LOAD} max={754} ticks={[0, 200, 400, 600]} tree={RNA_TREE} treeX={347.3} treeW={22.7} maxH={68} stripY={170.5} stripH={17.5} />
      <HeatPanel x={29.3} y={289.3} w={160.7} h={225.7} gfc={ATAC_GFC} modules={ATAC_MODULES} annotX={192} annotW={11.3} barX={208.3} barW={57.4} load={ATAC_LOAD} max={420} ticks={[0, 200, 400]} tree={ATAC_TREE} treeX={17.3} treeW={12} maxH={36} stripY={517} stripH={23.5} />
      <At x={0} y={577.5}><DotPlot /></At>
      <At x={430} y={582.7}><BoxPanel groups={AUNIP_COUNTS} domain={[6.756, 7.746]} ticks={[7, 7.25, 7.5]} fmt={fmt2} xMin={-0.626} width={112} /></At>
      <At x={534} y={582.7}><BoxPanel groups={KBTBD8_COUNTS} domain={[6.856, 9.81]} ticks={[7, 8, 9]} fmt={fmt0} xMin={-0.55} width={111.3} /></At>
      <At x={448.3} y={686.3}><Strips rows={[BOX_CELL_LINE, BOX_TREAT, BOX_COMPOUND]} width={92.7} height={12} /></At>
      <At x={551.6} y={686.3}><Strips rows={[BOX_CELL_LINE, BOX_TREAT, BOX_COMPOUND]} width={92.7} height={12} /></At>
      <Overlay />
    </div>
  );
}
